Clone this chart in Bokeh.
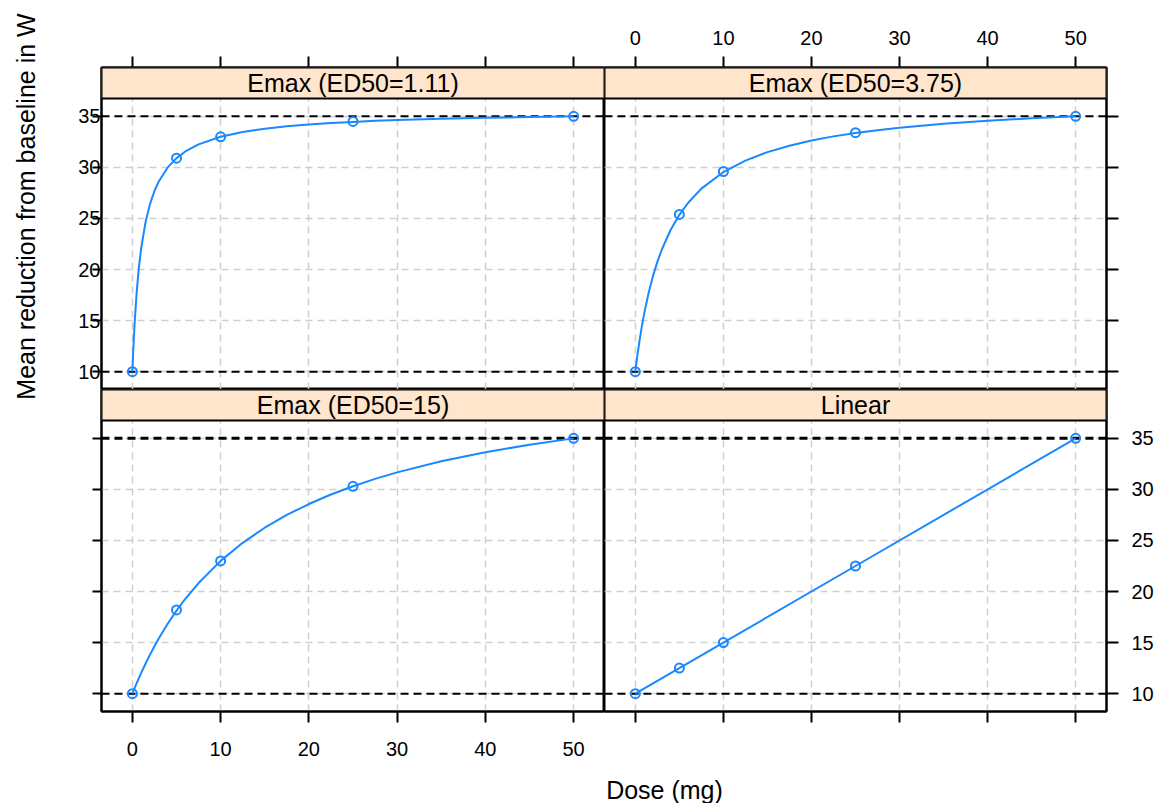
import math
from bokeh.plotting import figure
from bokeh.layouts import gridplot, row, column
from bokeh.models import FixedTicker, Range1d, BoxAnnotation, Label, Span
from bokeh.embed import file_html
from bokeh.resources import INLINE

# ---------------- data ----------------
panel_titles = ["Emax (ED50=1.11)", "Emax (ED50=3.75)", "Emax (ED50=15)", "Linear"]
x_ticks = [0, 10, 20, 30, 40, 50]
y_ticks = [10, 15, 20, 25, 30, 35]
placebo_level = 10
max_level = 35

doses = [0, 5, 10, 25, 50]
resp_emax_111 = [10.0, 30.9, 33.0, 34.5, 35.0]
resp_emax_375 = [10.0, 25.4, 29.6, 33.4, 35.0]
resp_emax_15 = [10.0, 18.2, 23.0, 30.3, 35.0]
resp_linear = [10.0, 12.5, 15.0, 22.5, 35.0]

curve_dose = [0, 0.1, 0.25, 0.5, 0.75, 1, 1.5, 2, 2.5, 3, 4, 5, 6, 7.5, 10, 12.5,
              15, 17.5, 20, 22.5, 25, 27.5, 30, 35, 40, 45, 50]
curve_emax_111 = [10.0, 12.11, 14.70, 17.93, 20.30, 22.11, 24.68, 26.43, 27.69, 28.65,
                  30.00, 30.91, 31.56, 32.26, 33.00, 33.47, 33.79, 34.03, 34.21, 34.35,
                  34.46, 34.56, 34.64, 34.76, 34.86, 34.93, 35.0]
curve_emax_375 = [10.0, 10.70, 11.68, 13.16, 14.48, 15.66, 17.68, 19.35, 20.75, 21.94,
                  23.87, 25.36, 26.54, 27.92, 29.55, 30.67, 31.50, 32.13, 32.63, 33.04,
                  33.37, 33.65, 33.89, 34.27, 34.57, 34.81, 35.0]
curve_emax_15 = [10.0, 10.22, 10.53, 11.05, 11.55, 12.03, 12.95, 13.82, 14.64, 15.42,
                 16.84, 18.13, 19.29, 20.83, 23.00, 24.77, 26.25, 27.50, 28.57, 29.50,
                 30.31, 31.03, 31.67, 32.75, 33.64, 34.38, 35.0]
curve_linear_dose = [0, 5, 10, 25, 50]
curve_linear = [10.0, 12.5, 15.0, 22.5, 35.0]

x_title = "Dose (mg)"
y_title = "Mean reduction from baseline in W"

# ---------------- styling ----------------
FONT = "Liberation Sans"
BLUE = "#1a88ff"
STRIP = "#ffe5cc"
GRID = "#cfcfcf"

X_LO, X_HI = -3.5, 53.5
Y_LO, Y_DATA_HI = 8.25, 36.75
FRAME_W_L, FRAME_W_R = 503, 502
FRAME_H = 322
PLOT_H = 291
Y_HI = Y_LO + (Y_DATA_HI - Y_LO) * FRAME_H / PLOT_H
Y_STRIP_MID = (Y_DATA_HI + Y_HI) / 2

YT_W = 46                      # width of the y-title strip on the left
LEFT_B, RIGHT_B, TOP_B, BOTTOM_B = 101 - YT_W, 55, 67, 58
XT_H = 34                      # height of the x-title strip at the bottom
GRID_W = LEFT_B + FRAME_W_L + FRAME_W_R + RIGHT_B
GRID_H = TOP_B + 2 * FRAME_H + BOTTOM_B


def make_panel(title, cx, cy, px, py, xloc, yloc, xlab, ylab, fw, borders, thick35):
    bl, br, bt, bb = borders
    p = figure(frame_width=fw, frame_height=FRAME_H,
               x_range=Range1d(X_LO, X_HI), y_range=Range1d(Y_LO, Y_HI),
               x_axis_location=xloc, y_axis_location=yloc,
               toolbar_location=None, tools="", output_backend="svg",
               min_border_left=bl, min_border_right=br,
               min_border_top=bt, min_border_bottom=bb)
    p.background_fill_color = "white"
    p.border_fill_color = "white"
    p.outline_line_color = "black"
    p.outline_line_width = 2

    for ax, ticks, show, side in ((p.xaxis[0], x_ticks, xlab, xloc),
                                  (p.yaxis[0], y_ticks, ylab, yloc)):
        ax.ticker = FixedTicker(ticks=ticks)
        ax.axis_line_color = "black"
        ax.axis_line_width = 2
        ax.major_tick_line_color = "black"
        ax.major_tick_line_width = 2
        ax.major_tick_in = 0
        ax.minor_tick_line_color = None
        ax.major_label_text_font = FONT
        ax.major_label_text_color = "black"
        ax.major_label_text_font_size = "20px"
        if side in ("above", "below"):
            ax.major_tick_out = 11
            ax.major_label_standoff = 19 if side == "below" else 12
        elif side == "right":
            ax.major_tick_out = 12
            ax.major_label_standoff = 13
        else:
            ax.major_tick_out = 9
            ax.major_label_standoff = -8
        if not show:
            ax.major_label_overrides = {t: "" for t in ticks}

    p.xgrid.ticker = FixedTicker(ticks=x_ticks)
    p.ygrid.ticker = FixedTicker(ticks=y_ticks)
    for g in (p.xgrid[0], p.ygrid[0]):
        g.grid_line_color = GRID
        g.grid_line_width = 1.5
        g.grid_line_dash = "7 5"

    p.add_layout(Span(location=placebo_level, dimension="width", line_color="black",
                      line_width=2, line_dash="8 5", level="underlay"))
    p.add_layout(Span(location=max_level, dimension="width", line_color="black",
                      line_width=3 if thick35 else 2, line_dash="8 5", level="underlay"))

    p.line(cx, cy, line_color=BLUE, line_width=2)
    p.scatter(px, py, marker="circle", size=9, fill_color=None,
              line_color=BLUE, line_width=2)

    p.add_layout(BoxAnnotation(bottom=Y_DATA_HI, fill_color=STRIP, fill_alpha=1.0,
                               line_color="black", line_width=2, line_alpha=1.0))
    p.add_layout(Label(x=(X_LO + X_HI) / 2, y=Y_STRIP_MID, text=title,
                       text_align="center", text_baseline="middle",
                       text_font=FONT, text_font_size="25px", text_color="black"))
    return p


def text_strip(w, h, x, y, text, angle):
    f = figure(width=w, height=h, x_range=Range1d(0, w), y_range=Range1d(h, 0),
               toolbar_location=None, tools="", output_backend="svg",
               min_border=0, x_axis_type=None, y_axis_type=None)
    f.outline_line_color = None
    f.background_fill_color = "white"
    f.border_fill_color = "white"
    f.xgrid.visible = False
    f.ygrid.visible = False
    f.add_layout(Label(x=x, y=y, text=text, angle=angle, angle_units="rad",
                       text_align="center", text_baseline="middle",
                       text_font=FONT, text_font_size="25px", text_color="black"))
    return f


tl = make_panel(panel_titles[0], curve_dose, curve_emax_111, doses, resp_emax_111,
                "above", "left", False, True, FRAME_W_L, (LEFT_B, 0, TOP_B, 0), False)
tr = make_panel(panel_titles[1], curve_dose, curve_emax_375, doses, resp_emax_375,
                "above", "right", True, False, FRAME_W_R, (0, RIGHT_B, TOP_B, 0), False)
bl = make_panel(panel_titles[2], curve_dose, curve_emax_15, doses, resp_emax_15,
                "below", "left", True, False, FRAME_W_L, (LEFT_B, 0, 0, BOTTOM_B), True)
br = make_panel(panel_titles[3], curve_linear_dose, curve_linear, doses, resp_linear,
                "below", "right", False, True, FRAME_W_R, (0, RIGHT_B, 0, BOTTOM_B), True)

panels = gridplot([[tl, tr], [bl, br]], toolbar_location=None)

y_strip = text_strip(YT_W, GRID_H, 25, 206, y_title, math.pi / 2)
x_strip = text_strip(YT_W + GRID_W, XT_H, 664, 789 - GRID_H, x_title, 0)

layout = column(row(y_strip, panels), x_strip)

open("out.html", "w").write(file_html(layout, INLINE))
